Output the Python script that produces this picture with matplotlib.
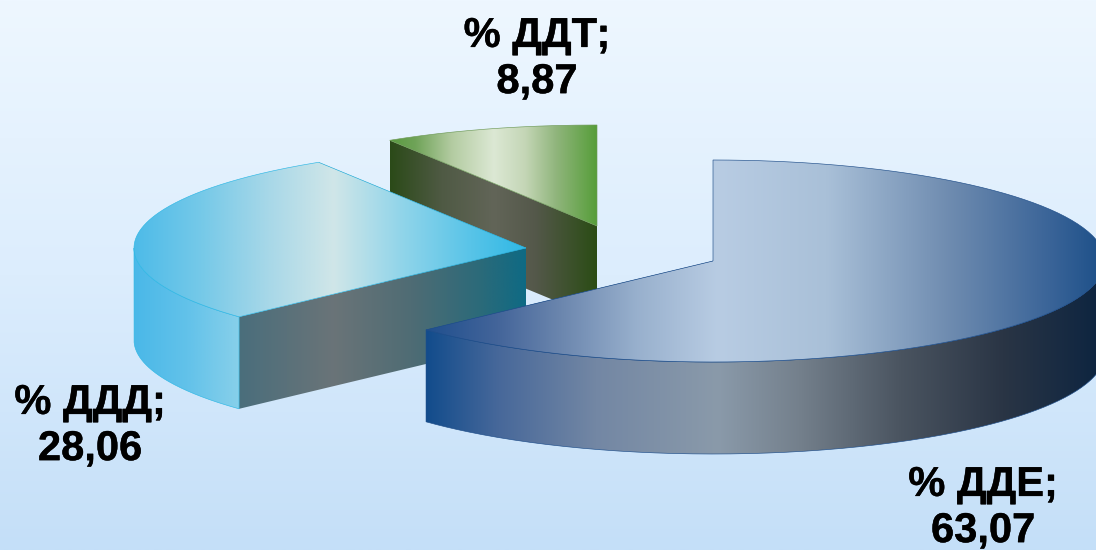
import numpy as np
import matplotlib as mpl
import matplotlib.pyplot as plt
import matplotlib.patheffects as pe
from matplotlib.colors import LinearSegmentedColormap
from matplotlib.patches import PathPatch
from matplotlib.path import Path

mpl.use('Agg')
plt.rcParams['font.family'] = ['Liberation Sans', 'DejaVu Sans']

# data, clockwise from 12 o'clock
nomes = ['% ДДЕ', '% ДДД', '% ДДТ']
valores = [63.07, 28.06, 8.87]

# pie layout in pixels
rx, ry, altura = 392, 101, 92
centros = [(713, 261), (526, 248), (597, 226)]
pos_rotulos = [(983, 508), (90, 426), (537, 59)]

# gradients: (position across the shape, colour)
topo = [
    [(0, '#1f4f8e'), (.106, '#44659a'), (.195, '#6a85ad'), (.31, '#98b0cd'), (.43, '#b8cce3'),
     (.59, '#a9c0d8'), (.77, '#6f8cb0'), (.92, '#3a6498'), (1, '#1c4f88')],
    [(0, '#4dbbe9'), (.17, '#75c9e8'), (.345, '#a8d8e8'), (.51, '#d0e6e8'), (.68, '#92d5ea'),
     (.86, '#58c4e8'), (1, '#2fb8e5')],
    [(0, '#5a9a40'), (.12, '#6fa358'), (.3, '#b4cca2'), (.5, '#dce8d4'), (.65, '#c4d6b6'),
     (.8, '#90b57c'), (1, '#559d38')],
]
lateral = [
    [(0, '#124c8c'), (.106, '#47689a'), (.25, '#7387a4'), (.43, '#8a9aaa'), (.55, '#74808c'),
     (.7, '#4a5460'), (.85, '#2a3545'), (1, '#0c2440')],
    [(0, '#4ab8e8'), (.5, '#62c2ea'), (1, '#88d0ea')],
    [(0, '#2b4a18'), (1, '#2b4a18')],
]
corte = [
    [(0, '#124c8c'), (1, '#124c8c')],
    [(0, '#4a6e7c'), (.33, '#6a7478'), (.6, '#4f6c74'), (.85, '#2a6a7a'), (1, '#0e6a84')],
    [(0, '#2b4a18'), (.25, '#4f5a44'), (.5, '#626558'), (.7, '#54584a'), (1, '#2a4c14')],
]
bordas = ['#1f4e8a', '#2fb8e5', '#6f9a58']


def ponto(c, ang, dy=0):
    return c[0] + rx * np.sin(ang), c[1] - ry * np.cos(ang) + dy


def arco(c, a0, a1, dy=0):
    t = np.linspace(a0, a1, 200)
    x, y = ponto(c, t, dy)
    return list(zip(x, y))


def preenche(ax, verts, stops, z, cor=None):
    path = Path(verts + [verts[0]])
    ext = path.get_extents()
    if ext.width < 0.5:
        return
    cmap = LinearSegmentedColormap.from_list('g', stops, N=512)
    im = ax.imshow(np.linspace(0, 1, 512).reshape(1, -1), cmap=cmap, aspect='auto', zorder=z,
                   extent=[ext.x0, ext.x1, ext.y1, ext.y0], interpolation='bilinear')
    patch = PathPatch(path, fc='none', ec=cor if cor else 'none', lw=0.45, zorder=z + 0.1)
    ax.add_patch(patch)
    im.set_clip_path(PathPatch(path, transform=ax.transData))


fig = plt.figure(figsize=(10.96, 5.5), dpi=100)
ax = fig.add_axes([0, 0, 1, 1])
ax.axis('off')

# background
fundo = LinearSegmentedColormap.from_list('fundo', ['#eef7ff', '#dcedfd', '#c4dff8'])
ax.imshow(np.linspace(0, 1, 256).reshape(-1, 1), cmap=fundo, aspect='auto',
          extent=[0, 1096, 550, 0], zorder=0)

# slice angles
fim = 2 * np.pi * np.cumsum(valores) / sum(valores)
inicio = np.concatenate([[0], fim[:-1]])

# back slices first so the big one ends up in front
for i in [2, 1, 0]:
    c, a0, a1 = centros[i], inicio[i], fim[i]
    z = 10 + (2 - i) * 5

    # flat cut faces
    for ang in (a1, a0):
        p = ponto(c, ang)
        preenche(ax, [c, p, (p[0], p[1] + altura), (c[0], c[1] + altura)], corte[i], z)

    # outer wall, only the front half of the rim shows
    b0, b1 = max(a0, np.pi / 2), min(a1, 3 * np.pi / 2)
    if b1 > b0:
        preenche(ax, arco(c, b0, b1) + arco(c, b1, b0, altura), lateral[i], z + 1, bordas[i])

    # top surface
    preenche(ax, [c] + arco(c, a0, a1), topo[i], z + 2, bordas[i])

for nome, v, (x, y) in zip(nomes, valores, pos_rotulos):
    rotulo = '%s;\n%s' % (nome, ('%.2f' % v).replace('.', ','))
    t = ax.text(x, y, rotulo, ha='center', va='center', fontsize=30, fontweight='bold',
                color='black', linespacing=1.2, zorder=40)
    t.set_path_effects([pe.withStroke(linewidth=0.3, foreground='black')])

ax.set_xlim(0, 1096)
ax.set_ylim(550, 0)
fig.savefig('out.png', dpi=100)
